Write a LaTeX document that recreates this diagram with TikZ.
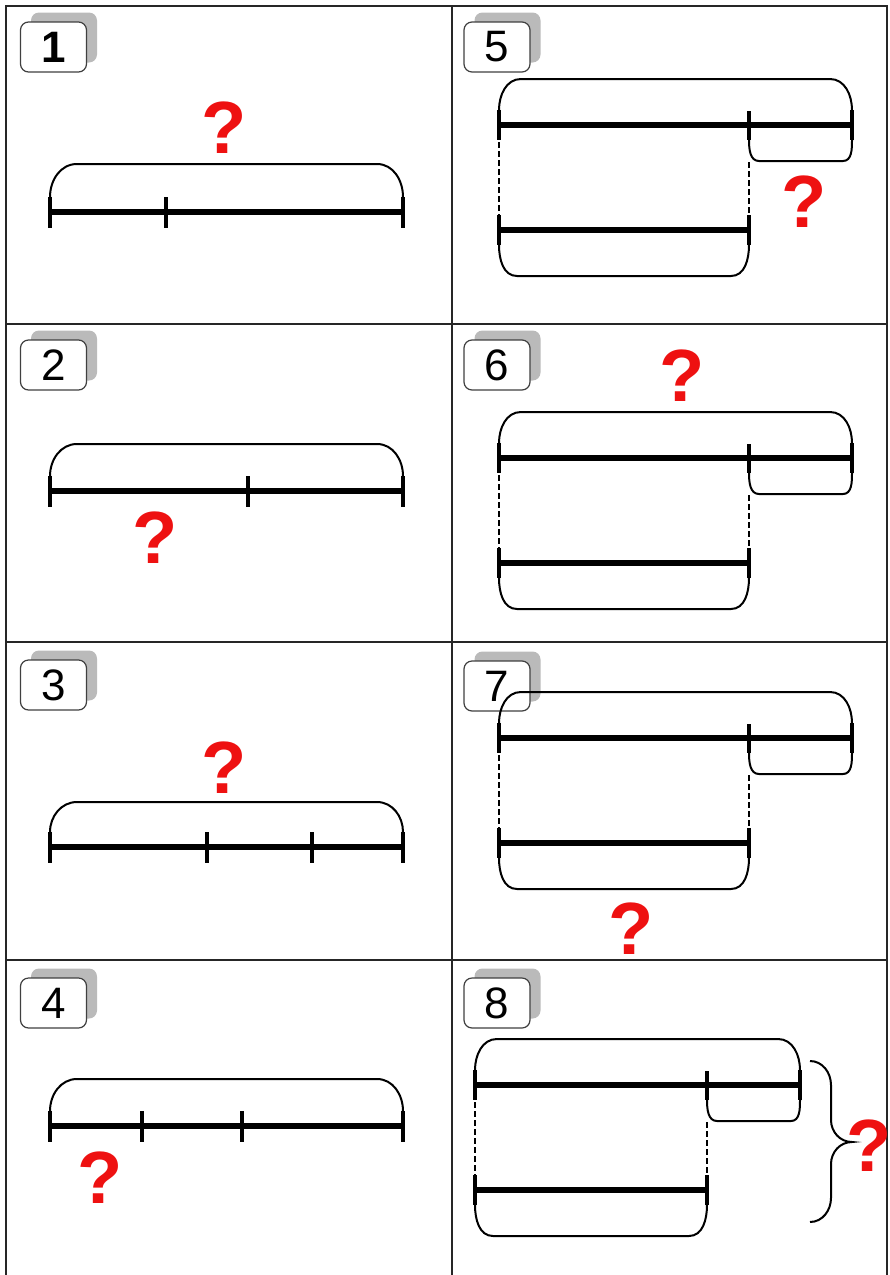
\documentclass[tikz,border=0pt]{standalone}
\usepackage{fontspec}
\setmainfont{Liberation Sans}
\usepackage{tikz}
\definecolor{qred}{HTML}{EE1111}

\begin{document}
\begin{tikzpicture}[x=1pt, y=-1pt,
  cellrule/.style={line width=1.5pt, black!85},
  bar/.style={line width=5.5pt},
  notch/.style={line width=4.5pt},
  hoop/.style={line width=2pt},
  guide/.style={line width=1.2pt, dash pattern=on 6pt off 3pt},
  numbox/.style={draw=black!75, line width=1.2pt, rounded corners=8pt, fill=white,
                 minimum width=66pt, minimum height=50pt, inner sep=0pt,
                 font=\fontsize{44}{44}\selectfont},
  numshade/.style={fill=black!27, rounded corners=8pt, minimum width=66pt,
                   minimum height=50pt, inner sep=0pt},
  ask/.style={text=qred, inner sep=0pt, font=\fontsize{74}{74}\selectfont\bfseries},
]
\useasboundingbox (0,0) rectangle (890,1275);

\draw[cellrule] (6,1275) -- (6,6) -- (887,6) -- (887,1275);
\draw[cellrule] (452,6) -- (452,1275);
\draw[cellrule] (6,324) -- (887,324);
\draw[cellrule] (6,642) -- (887,642);
\draw[cellrule] (6,960) -- (887,960);

\node[numshade] (s1) at (64,37.5) {};
\node[numbox] (n1) at (53.5,47) {\textbf{1}};
\node[numshade] (s2) at (64,355.5) {};
\node[numbox] (n2) at (53.5,365) {2};
\node[numshade] (s3) at (64,675.5) {};
\node[numbox] (n3) at (53.5,685) {3};
\node[numshade] (s4) at (64,993.5) {};
\node[numbox] (n4) at (53.5,1003) {4};
\node[numshade] (s5) at (507.5,37.5) {};
\node[numbox] (n5) at (497,47) {5};
\node[numshade] (s6) at (507.5,355.5) {};
\node[numbox] (n6) at (497,365) {6};
\node[numshade] (s7) at (507.5,676.5) {};
\node[numbox] (n7) at (497,686) {7};
\node[numshade] (s8) at (507.5,993.5) {};
\node[numbox] (n8) at (497,1003) {8};

\draw[hoop] (50,197) to[out=90,in=180] (77,164) -- (377,164) to[out=0,in=90] (403,197);
\draw[bar] (50,212) -- (403,212);
\draw[notch] (50,197) -- (50,228);
\draw[notch] (166,197) -- (166,228);
\draw[notch] (403,197) -- (403,228);
\node[ask] (q1) at (224,128) {?};

\draw[hoop] (50,476) to[out=90,in=180] (77,444) -- (377,444) to[out=0,in=90] (403,476);
\draw[bar] (50,491) -- (403,491);
\draw[notch] (50,476) -- (50,507);
\draw[notch] (248,476) -- (248,507);
\draw[notch] (403,476) -- (403,507);
\node[ask] (q2) at (155,538) {?};

\draw[hoop] (50,832) to[out=90,in=180] (77,802) -- (377,802) to[out=0,in=90] (403,832);
\draw[bar] (50,847) -- (403,847);
\draw[notch] (50,832) -- (50,863);
\draw[notch] (207,832) -- (207,863);
\draw[notch] (312,832) -- (312,863);
\draw[notch] (403,832) -- (403,863);
\node[ask] (q3) at (224,768) {?};

\draw[hoop] (50,1111) to[out=90,in=180] (77,1079) -- (377,1079) to[out=0,in=90] (403,1111);
\draw[bar] (50,1126) -- (403,1126);
\draw[notch] (50,1111) -- (50,1142);
\draw[notch] (142,1111) -- (142,1142);
\draw[notch] (242,1111) -- (242,1142);
\draw[notch] (403,1111) -- (403,1142);
\node[ask] (q4) at (100,1178) {?};

\draw[hoop] (499,110) to[out=90,in=180] (521,79) -- (830,79) to[out=0,in=90] (852,110);
\draw[hoop] (749,140) to[out=-90,in=180] (759,161) -- (843,161) to[out=0,in=-90] (852,140);
\draw[hoop] (499,245) to[out=-90,in=180] (517,276) -- (731,276) to[out=0,in=-90] (749,245);
\draw[bar] (499,125) -- (852,125);
\draw[bar] (499,230) -- (749,230);
\draw[notch] (499,110) -- (499,140);
\draw[notch] (749,111) -- (749,140);
\draw[notch] (852,110) -- (852,140);
\draw[notch] (499,215) -- (499,245);
\draw[notch] (749,215) -- (749,245);
\draw[guide] (499,142) -- (499,215);
\draw[guide] (749,162) -- (749,215);
\node[ask] (q5) at (804,202) {?};

\draw[hoop] (499,443) to[out=90,in=180] (521,412) -- (830,412) to[out=0,in=90] (852,443);
\draw[hoop] (749,473) to[out=-90,in=180] (759,494) -- (843,494) to[out=0,in=-90] (852,473);
\draw[hoop] (499,578) to[out=-90,in=180] (517,609) -- (731,609) to[out=0,in=-90] (749,578);
\draw[bar] (499,458) -- (852,458);
\draw[bar] (499,563) -- (749,563);
\draw[notch] (499,443) -- (499,473);
\draw[notch] (749,444) -- (749,473);
\draw[notch] (852,443) -- (852,473);
\draw[notch] (499,548) -- (499,578);
\draw[notch] (749,548) -- (749,578);
\draw[guide] (499,475) -- (499,548);
\draw[guide] (749,495) -- (749,548);
\node[ask] (q6) at (682,376) {?};

\draw[hoop] (499,723) to[out=90,in=180] (521,692) -- (830,692) to[out=0,in=90] (852,723);
\draw[hoop] (749,753) to[out=-90,in=180] (759,774) -- (843,774) to[out=0,in=-90] (852,753);
\draw[hoop] (499,858) to[out=-90,in=180] (517,889) -- (731,889) to[out=0,in=-90] (749,858);
\draw[bar] (499,738) -- (852,738);
\draw[bar] (499,843) -- (749,843);
\draw[notch] (499,723) -- (499,753);
\draw[notch] (749,724) -- (749,753);
\draw[notch] (852,723) -- (852,753);
\draw[notch] (499,828) -- (499,858);
\draw[notch] (749,828) -- (749,858);
\draw[guide] (499,755) -- (499,828);
\draw[guide] (749,775) -- (749,828);
\node[ask] (q7) at (631,929) {?};

\draw[hoop] (475,1070) to[out=90,in=180] (497,1039) -- (778,1039) to[out=0,in=90] (800,1070);
\draw[hoop] (707,1100) to[out=-90,in=180] (717,1121) -- (791,1121) to[out=0,in=-90] (800,1100);
\draw[hoop] (475,1205) to[out=-90,in=180] (493,1236) -- (689,1236) to[out=0,in=-90] (707,1205);
\draw[bar] (475,1085) -- (800,1085);
\draw[bar] (475,1190) -- (707,1190);
\draw[notch] (475,1070) -- (475,1100);
\draw[notch] (707,1071) -- (707,1100);
\draw[notch] (800,1070) -- (800,1100);
\draw[notch] (475,1175) -- (475,1205);
\draw[notch] (707,1175) -- (707,1205);
\draw[guide] (475,1102) -- (475,1175);
\draw[guide] (707,1122) -- (707,1175);
\draw[hoop] (810,1061) to[out=0,in=90] (831,1085) -- (831,1120) to[out=-90,in=180] (852,1142)
  to[out=180,in=90] (831,1164) -- (831,1198) to[out=-90,in=0] (810,1222);
\node[ask] (q8) at (869,1146) {?};

\end{tikzpicture}
\end{document}
